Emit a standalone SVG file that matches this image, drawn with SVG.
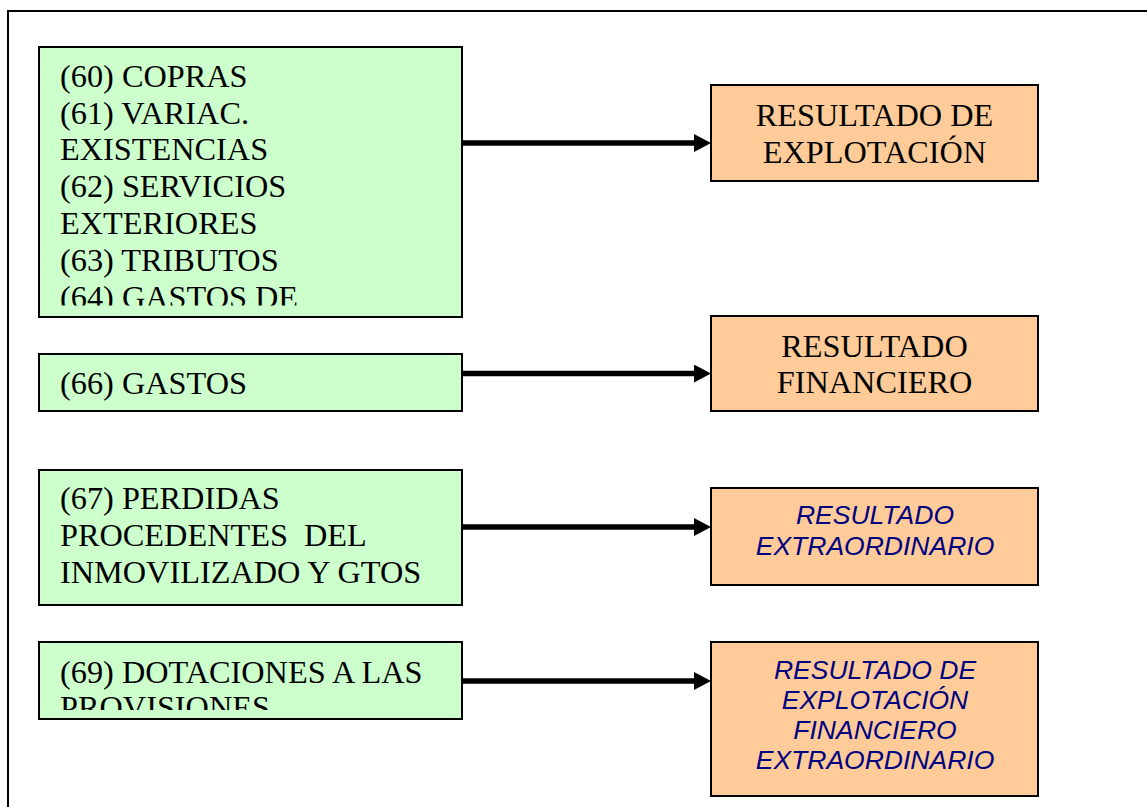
<svg xmlns="http://www.w3.org/2000/svg" width="1147" height="807" viewBox="0 0 1147 807">
<style>
.green{fill:#CCFFCC;stroke:#000;stroke-width:2}
.orange{fill:#FFCC99;stroke:#000;stroke-width:2}
.serif{font-family:"Liberation Serif","Times New Roman",serif;font-size:32.3px;fill:#000}
.blue{font-family:"Liberation Sans",Arial,sans-serif;font-style:italic;font-size:26.5px;fill:#000080}
.mid{text-anchor:middle}
.conn{stroke:#000;stroke-width:5.5;fill:none}
</style>
<defs>
<marker id="ah" markerUnits="userSpaceOnUse" markerWidth="18" markerHeight="18" viewBox="0 0 18 18" refX="0" refY="9" orient="auto">
<path d="M0,0 L17,9 L0,18 z" fill="#000"/>
</marker>
<clipPath id="c1"><rect x="39" y="47" width="423" height="258.5"/></clipPath>
<clipPath id="c4"><rect x="39" y="642" width="423" height="68"/></clipPath>
</defs>
<rect width="1147" height="807" fill="#fff"/>
<path d="M8,820 V11 H1160" fill="none" stroke="#000" stroke-width="2"/>

<g id="n1">
<rect class="green" x="39" y="47" width="423" height="270"/>
<g clip-path="url(#c1)">
<text class="serif" x="60" y="87">(60) COPRAS</text>
<text class="serif" x="60" y="123.7">(61) VARIAC.</text>
<text class="serif" x="60" y="160.4">EXISTENCIAS</text>
<text class="serif" x="60" y="197.1">(62) SERVICIOS</text>
<text class="serif" x="60" y="233.8">EXTERIORES</text>
<text class="serif" x="60" y="270.5">(63) TRIBUTOS</text>
<text class="serif" x="60" y="308">(64) GASTOS DE</text>
</g>
</g>

<g id="n2">
<rect class="green" x="39" y="354" width="423" height="57"/>
<text class="serif" x="60" y="394">(66) GASTOS</text>
</g>

<g id="n3">
<rect class="green" x="39" y="470" width="423" height="135"/>
<text class="serif" x="60" y="508.5">(67) PERDIDAS</text>
<text class="serif" x="60" y="545.5" xml:space="preserve">PROCEDENTES  DEL</text>
<text class="serif" x="60" y="582.5">INMOVILIZADO Y GTOS</text>
</g>

<g id="n4">
<rect class="green" x="39" y="642" width="423" height="77"/>
<g clip-path="url(#c4)">
<text class="serif" x="60" y="682.7">(69) DOTACIONES A LAS</text>
<text class="serif" x="60" y="718">PROVISIONES</text>
</g>
</g>

<g id="r1">
<rect class="orange" x="711" y="85" width="327" height="96"/>
<text class="serif mid" x="874.5" y="126">RESULTADO DE</text>
<text class="serif mid" x="874.5" y="163">EXPLOTACIÓN</text>
</g>

<g id="r2">
<rect class="orange" x="711" y="316" width="327" height="95"/>
<text class="serif mid" x="874.5" y="357">RESULTADO</text>
<text class="serif mid" x="874.5" y="393">FINANCIERO</text>
</g>

<g id="r3">
<rect class="orange" x="711" y="488" width="327" height="97"/>
<text class="blue mid" x="875" y="523.5">RESULTADO</text>
<text class="blue mid" x="875" y="555">EXTRAORDINARIO</text>
</g>

<g id="r4">
<rect class="orange" x="711" y="642" width="327" height="154"/>
<text class="blue mid" x="875" y="678.5">RESULTADO DE</text>
<text class="blue mid" x="875" y="708.8">EXPLOTACIÓN</text>
<text class="blue mid" x="875" y="739.1">FINANCIERO</text>
<text class="blue mid" x="875" y="769.4">EXTRAORDINARIO</text>
</g>

<g id="connectors">
<line class="conn" x1="463" y1="143" x2="694" y2="143" marker-end="url(#ah)"/>
<line class="conn" x1="463" y1="373.5" x2="694" y2="373.5" marker-end="url(#ah)"/>
<line class="conn" x1="463" y1="527" x2="694" y2="527" marker-end="url(#ah)"/>
<line class="conn" x1="463" y1="681" x2="694" y2="681" marker-end="url(#ah)"/>
</g>
</svg>
